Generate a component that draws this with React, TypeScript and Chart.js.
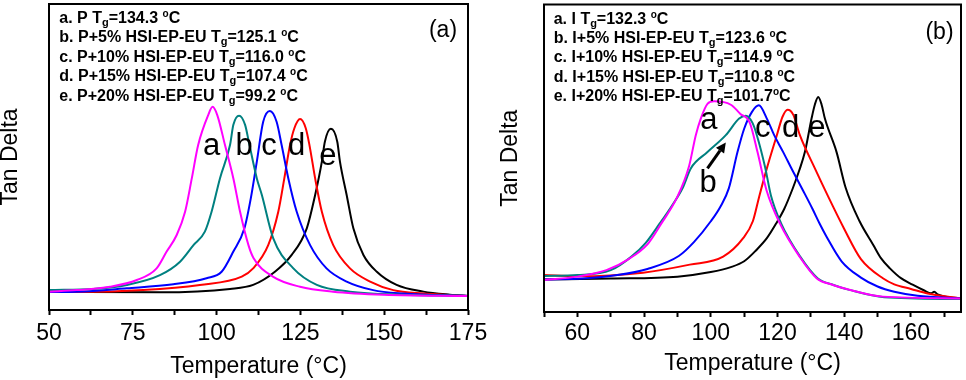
import React, { useEffect, useRef } from 'react';
import { Chart, registerables } from 'chart.js';

Chart.register(...registerables);

const FONT = '"Liberation Sans", Arial, Helvetica, sans-serif';

const seriesLetters = ['a', 'b', 'c', 'd', 'e'];
const seriesColors = ['#ff00ff', '#008080', '#0000ff', '#ff0000', '#000000'];

// ---------- Panel (a): temperature (°C) and tan delta (arb. units) ----------
const aT_A = [50, 58.3, 68.2, 76.2, 82.1, 85.1, 88.1, 90.6, 92.6, 94.5, 97.5, 98.8, 100.2, 102.5, 105, 107, 109.5, 111, 116.8, 124.9, 134.7, 150, 175];
const aY_A = [6.0, 6.5, 7.6, 9.8, 13.6, 19.1, 24.5, 32.1, 43.0, 53.9, 63.7, 66.4, 63.7, 53.9, 43.0, 32.1, 21.2, 17.0, 10.9, 7.6, 6.0, 5.0, 4.6];
const bT_A = [50, 63.2, 73.2, 83.1, 89.1, 93.1, 96.5, 98.5, 101, 104, 105, 106.7, 108.5, 109.7, 112, 113.5, 116.9, 122.9, 129.9, 139.8, 155, 175];
const bY_A = [6.5, 6.9, 8.2, 11.4, 15.8, 21.2, 25.6, 32.1, 43, 53.9, 60.5, 63.5, 60.5, 54.5, 43, 37.6, 23.4, 13.6, 8.2, 6.0, 5.0, 4.6];
const cT_A = [50, 58.3, 73.2, 87.1, 97, 101.5, 105, 108.3, 110.2, 112, 113.9, 115.9, 117.9, 119.4, 121.4, 123.9, 127.9, 132.8, 138.8, 146.7, 155.7, 175];
const cY_A = [5.9, 6.0, 7.1, 8.4, 10.4, 12.5, 19.1, 26.7, 36.5, 48.5, 61.5, 65.0, 61.5, 53.9, 43, 32.1, 21.2, 13.6, 9.3, 6.5, 5.4, 4.6];
const dT_A = [50, 58.3, 78.1, 95, 107.5, 110.9, 115.4, 118.4, 120.2, 121.9, 123.2, 124.9, 126.6, 127.7, 129.4, 131.4, 134.8, 139.8, 145.8, 152.7, 161.7, 175];
const dY_A = [5.9, 5.9, 6.5, 8.2, 10.9, 13.6, 21.2, 32.1, 43, 53.9, 59.4, 62.4, 59.4, 53.9, 43, 32.1, 21.2, 13.6, 9.3, 6.5, 5.4, 4.6];
const eT_A = [50, 83.1, 104, 110.9, 117.4, 122.4, 126.9, 129.4, 131.4, 132.3, 134.1, 136, 136.8, 138.8, 140.8, 143.8, 147.8, 153.7, 161.7, 169.6, 175];
const eY_A = [5.9, 5.8, 6.9, 8.2, 12.5, 18, 26.7, 37.6, 48.5, 55, 59.2, 55, 48.5, 37.6, 26.7, 18, 12.5, 8.2, 6.0, 5.0, 4.6];

// ---------- Panel (b) ----------
const aT_B = [50, 60, 68.7, 75.5, 81, 85, 90, 93.5, 95.5, 97, 99, 101, 106, 108.8, 111.7, 114, 116.7, 120.7, 126.6, 131.7, 136.6, 141, 151.6, 175];
const aY_B = [10.4, 11.5, 13.6, 17.3, 22, 28.5, 37.5, 47.5, 57.5, 62.9, 67.7, 68.5, 67.4, 64.5, 61.5, 52, 39.6, 28.8, 18, 11, 8.8, 7.4, 5.0, 4.4];
const bT_B = [50, 60, 70, 76.2, 80.5, 84.7, 88, 91.6, 94, 99, 104.5, 108.5, 110.5, 112.5, 113.8, 116.3, 118, 121, 126.8, 132, 137, 141.5, 152, 175];
const bY_B = [11.7, 12, 13.6, 18, 22.5, 28.8, 34, 40.4, 46.7, 52, 57.5, 62.9, 63.8, 61.5, 57.5, 47, 38, 29, 18, 11, 8.7, 7.2, 4.8, 4.2];
const cT_B = [50, 61.7, 72, 81, 90.4, 95, 100, 103, 105.4, 108, 110, 112.3, 114.4, 116.8, 119, 121.7, 124.5, 127.6, 130.5, 132.6, 134.7, 139.2, 145, 150, 155, 162, 175];
const cY_B = [10.6, 10.9, 12, 14, 18.2, 22.8, 29.5, 34.5, 40.2, 52, 59.6, 65, 67.2, 62.9, 57.5, 52, 46, 39.6, 33.5, 28.8, 24.5, 16.5, 11.2, 8.3, 6.6, 5.3, 4.4];
const dT_B = [50, 60, 79.7, 93.7, 103.7, 109.7, 112.6, 114.5, 116.8, 119.8, 121.5, 123, 124.7, 126.7, 131.2, 135.2, 140, 145, 151.7, 155, 160, 165, 175];
const dY_B = [12, 11.6, 12.8, 15.4, 18, 24, 29.5, 37.5, 46.7, 57.5, 63.5, 65.8, 64.2, 57.5, 46.7, 37.5, 27, 17.2, 10.9, 9.0, 7.5, 6.0, 4.4];
const eT_B = [50, 70, 90, 100, 106, 110, 113.6, 116.8, 119.6, 122, 124.5, 126.5, 128.2, 130.2, 131.2, 132.2, 133.2, 134.2, 137.7, 140.4, 144.6, 148.7, 151, 153.7, 157, 160.5, 164, 166, 167, 168, 175];
const eY_B = [10.6, 10.9, 11.5, 13, 14.6, 16.5, 20.1, 24, 28.8, 33.5, 40, 46, 52, 62.9, 67.5, 69.9, 67.5, 62.9, 52, 40.5, 29.5, 21.8, 17.5, 14.2, 11, 8.9, 7.0, 6.1, 6.6, 5.7, 4.4];

// ---------- Legend texts ----------
const legendNamesA = ['a. P', 'b. P+5% HSI-EP-EU', 'c. P+10% HSI-EP-EU', 'd. P+15% HSI-EP-EU', 'e. P+20% HSI-EP-EU'];
const tgValuesA = ['134.3', '125.1', '116.0', '107.4', '99.2'];
const tgSepA = [' ', ' ', ' ', ' ', ' '];
const legendNamesB = ['a. I', 'b. I+5% HSI-EP-EU', 'c. I+10% HSI-EP-EU', 'd. I+15% HSI-EP-EU', 'e. I+20% HSI-EP-EU'];
const tgValuesB = ['132.3', '123.6', '114.9', '110.8', '101.7'];
const tgSepB = [' ', ' ', ' ', ' ', ''];

const tickLabelsA = [50, 75, 100, 125, 150, 175];
const tickLabelsB = [60, 80, 100, 120, 140, 160];

type Cfg = {
  left: number; width: number; z: number;
  padRight: number; padTop: number; yWidth: number; xHeight: number;
  xTickPad: number; xTitlePad: number; yTitlePad: number;
  step: number; includeBounds: boolean; tickLabels: number[];
  series: { t: number[]; y: number[] }[];
  names: string[]; tg: string[]; sep: string[]; legendDx: number;
  panelLabel: string; panelDx: number; panelDy: number;
  curveLabels: { t: number; y: number }[];
  arrow?: { t0: number; y0: number; t1: number; y1: number };
};

const cfgA: Cfg = {
  left: 0, width: 510, z: 1,
  padRight: 42, padTop: 4, yWidth: 49, xHeight: 70,
  xTickPad: 4.5, xTitlePad: 2.3, yTitlePad: -1.2,
  step: 12.5, includeBounds: true, tickLabels: tickLabelsA,
  series: [
    { t: aT_A, y: aY_A }, { t: bT_A, y: bY_A }, { t: cT_A, y: cY_A }, { t: dT_A, y: dY_A }, { t: eT_A, y: eY_A },
  ],
  names: legendNamesA, tg: tgValuesA, sep: tgSepA, legendDx: 10.3,
  panelLabel: '(a)', panelDx: -25, panelDy: 32.8,
  curveLabels: [
    { t: 98.5, y: 50.7 }, { t: 108.2, y: 50.7 }, { t: 115.6, y: 50.7 }, { t: 123.9, y: 50.7 }, { t: 133.2, y: 47.4 },
  ],
};

const cfgB: Cfg = {
  left: 483, width: 483, z: 2,
  padRight: 5, padTop: 4.5, yWidth: 61, xHeight: 68,
  xTickPad: 3.2, xTitlePad: 4.8, yTitlePad: 15.8,
  step: 10, includeBounds: false, tickLabels: tickLabelsB,
  series: [
    { t: aT_B, y: aY_B }, { t: bT_B, y: bY_B }, { t: cT_B, y: cY_B }, { t: dT_B, y: dY_B }, { t: eT_B, y: eY_B },
  ],
  names: legendNamesB, tg: tgValuesB, sep: tgSepB, legendDx: 9.7,
  panelLabel: '(b)', panelDx: -21.5, panelDy: 34,
  curveLabels: [
    { t: 99.4, y: 59.6 }, { t: 99.2, y: 39.1 }, { t: 115.6, y: 56.9 }, { t: 123.9, y: 56.9 }, { t: 131.8, y: 56.9 },
  ],
  arrow: { t0: 99, y0: 46.7, t1: 104.5, y1: 55.1 },
};

function drawTgLine(ctx: CanvasRenderingContext2D, x: number, y: number, name: string, tg: string, sep: string) {
  const parts = [
    { t: name + ' T', f: `bold 16px ${FONT}`, dy: 0 },
    { t: 'g', f: `bold 11px ${FONT}`, dy: 3 },
    { t: '=' + tg + sep, f: `bold 16px ${FONT}`, dy: 0 },
    { t: 'o', f: `bold 10px ${FONT}`, dy: -6 },
    { t: 'C', f: `bold 16px ${FONT}`, dy: 0 },
  ];
  let cx = x;
  for (const p of parts) {
    ctx.font = p.f;
    ctx.fillText(p.t, cx, y + p.dy);
    cx += ctx.measureText(p.t).width;
  }
}

function makeDecor(cfg: Cfg) {
  return {
    id: 'decor',
    afterDraw(chart: any) {
      const { ctx, chartArea: ca, scales } = chart;
      const xs = scales.x;
      const ys = scales.y;
      ctx.save();
      // frame
      ctx.strokeStyle = '#000';
      ctx.lineWidth = 2;
      ctx.strokeRect(ca.left, ca.top, ca.right - ca.left, ca.bottom - ca.top);
      // legend block
      ctx.fillStyle = '#000';
      ctx.textAlign = 'left';
      ctx.textBaseline = 'alphabetic';
      for (let i = 0; i < cfg.names.length; i++) {
        drawTgLine(ctx, ca.left + cfg.legendDx, ca.top + 19 + i * 19.4, cfg.names[i], cfg.tg[i], cfg.sep[i]);
      }
      // panel label
      ctx.font = `23px ${FONT}`;
      ctx.textAlign = 'center';
      ctx.fillText(cfg.panelLabel, ca.right + cfg.panelDx, ca.top + cfg.panelDy);
      // curve labels
      ctx.font = `31px ${FONT}`;
      cfg.curveLabels.forEach((p, i) => {
        ctx.fillText(seriesLetters[i], xs.getPixelForValue(p.t), ys.getPixelForValue(p.y));
      });
      // arrow
      if (cfg.arrow) {
        const x0 = xs.getPixelForValue(cfg.arrow.t0);
        const y0 = ys.getPixelForValue(cfg.arrow.y0);
        const x1 = xs.getPixelForValue(cfg.arrow.t1);
        const y1 = ys.getPixelForValue(cfg.arrow.y1);
        const ang = Math.atan2(y1 - y0, x1 - x0);
        const hl = 10;
        const hw = 5;
        const bx = x1 - hl * Math.cos(ang);
        const by = y1 - hl * Math.sin(ang);
        ctx.strokeStyle = '#000';
        ctx.lineWidth = 3;
        ctx.beginPath();
        ctx.moveTo(x0, y0);
        ctx.lineTo(bx, by);
        ctx.stroke();
        ctx.beginPath();
        ctx.moveTo(x1, y1);
        ctx.lineTo(bx + hw * Math.sin(ang), by - hw * Math.cos(ang));
        ctx.lineTo(bx - hw * Math.sin(ang), by + hw * Math.cos(ang));
        ctx.closePath();
        ctx.fill();
      }
      ctx.restore();
    },
  };
}

function Panel({ cfg }: { cfg: Cfg }) {
  const ref = useRef<HTMLCanvasElement>(null);
  useEffect(() => {
    const canvas = ref.current;
    if (!canvas) return;
    const chart = new Chart(canvas, {
      type: 'line',
      data: {
        datasets: cfg.series.map((s, i) => ({
          label: seriesLetters[i],
          data: s.t.map((t, j) => ({ x: t, y: s.y[j] })),
          borderColor: seriesColors[i],
          backgroundColor: seriesColors[i],
          borderWidth: 2,
          pointRadius: 0,
          fill: false,
          cubicInterpolationMode: 'monotone' as const,
        })),
      },
      options: {
        responsive: false,
        animation: false,
        devicePixelRatio: 1,
        events: [],
        layout: { padding: { left: 0, right: cfg.padRight, top: cfg.padTop, bottom: 0 } },
        plugins: { legend: { display: false }, tooltip: { enabled: false } },
        scales: {
          x: {
            type: 'linear',
            min: 50,
            max: 175,
            afterFit: (s: any) => {
              s.height = cfg.xHeight;
              s.paddingLeft = 0;
              s.paddingRight = 0;
            },
            ticks: {
              stepSize: cfg.step,
              autoSkip: false,
              maxRotation: 0,
              minRotation: 0,
              includeBounds: cfg.includeBounds,
              padding: cfg.xTickPad,
              color: '#000',
              font: { family: FONT, size: 23 },
              callback: (v: any) => (cfg.tickLabels.some((t) => Math.abs(t - Number(v)) < 1e-6) ? String(Math.round(Number(v))) : ''),
            },
            grid: { display: true, drawOnChartArea: false, drawTicks: true, tickLength: 5, tickWidth: 2, tickColor: '#000' },
            border: { display: false },
            title: {
              display: true,
              text: 'Temperature (°C)',
              color: '#000',
              font: { family: FONT, size: 23, lineHeight: 1 },
              padding: { top: 0, bottom: cfg.xTitlePad },
            },
          },
          y: {
            type: 'linear',
            min: 0,
            max: 100,
            afterFit: (s: any) => {
              s.width = cfg.yWidth;
              s.paddingTop = 0;
              s.paddingBottom = 0;
            },
            ticks: { display: false },
            grid: { display: false },
            border: { display: false },
            title: {
              display: true,
              text: 'Tan Delta',
              color: '#000',
              font: { family: FONT, size: 23, lineHeight: 1 },
              padding: { top: cfg.yTitlePad, bottom: 0 },
            },
          },
        },
      },
      plugins: [makeDecor(cfg)],
    } as any);
    return () => chart.destroy();
  }, [cfg]);
  return (
    <canvas
      ref={ref}
      width={cfg.width}
      height={380}
      style={{ position: 'absolute', left: cfg.left, top: 0, width: cfg.width, height: 380, zIndex: cfg.z }}
    />
  );
}

export default function App() {
  return (
    <div style={{ position: 'fixed', left: 0, top: 0, width: 966, height: 380, overflow: 'hidden', background: '#fff' }}>
      <Panel cfg={cfgA} />
      <Panel cfg={cfgB} />
    </div>
  );
}
